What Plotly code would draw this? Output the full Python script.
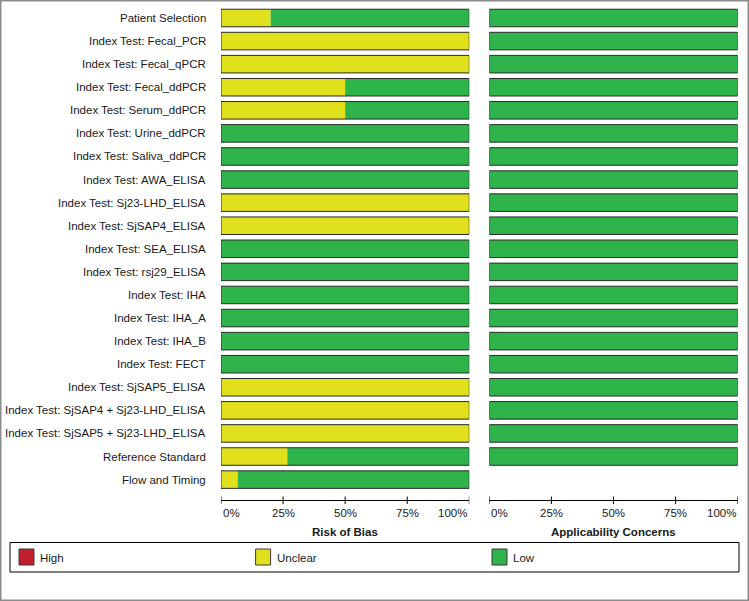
import plotly.graph_objects as go

# ---------------- data ----------------
domains = [
    "Patient Selection",
    "Index Test: Fecal_PCR",
    "Index Test: Fecal_qPCR",
    "Index Test: Fecal_ddPCR",
    "Index Test: Serum_ddPCR",
    "Index Test: Urine_ddPCR",
    "Index Test: Saliva_ddPCR",
    "Index Test: AWA_ELISA",
    "Index Test: Sj23-LHD_ELISA",
    "Index Test: SjSAP4_ELISA",
    "Index Test: SEA_ELISA",
    "Index Test: rsj29_ELISA",
    "Index Test: IHA",
    "Index Test: IHA_A",
    "Index Test: IHA_B",
    "Index Test: FECT",
    "Index Test: SjSAP5_ELISA",
    "Index Test: SjSAP4 + Sj23-LHD_ELISA",
    "Index Test: SjSAP5 + Sj23-LHD_ELISA",
    "Reference Standard",
    "Flow and Timing",
]

# Risk of bias (% of studies)
rob_high = [0, 0, 0, 0, 0, 0, 0, 0, 0, 0, 0, 0, 0, 0, 0, 0, 0, 0, 0, 0, 0]
rob_unclear = [20, 100, 100, 50, 50, 0, 0, 0, 100, 100, 0, 0, 0, 0, 0, 0, 100, 100, 100, 26.7, 6.7]
rob_low = [80, 0, 0, 50, 50, 100, 100, 100, 0, 0, 100, 100, 100, 100, 100, 100, 0, 0, 0, 73.3, 93.3]

# Applicability concerns (% of studies); not assessed for Flow and Timing
ac_high = [0] * 20 + [None]
ac_unclear = [0] * 20 + [None]
ac_low = [100] * 20 + [None]

categories = ["High", "Unclear", "Low"]
colors = ["#C0202A", "#E0E01C", "#2EB44B"]

tick_vals = [0, 25, 50, 75, 100]
tick_text = ["0%", "25%", "50%", "75%", "100%"]
panel_titles = ["Risk of Bias", "Applicability Concerns"]

# ---------------- layout helpers ----------------
W, H = 749, 601
FONT = "Liberation Sans, Arial, sans-serif"
TXT = "#1a1a1a"


def px(x):
    return x / W


def py(y):
    return 1 - y / H


y_idx = list(range(len(domains)))
BAR_W = 0.76

fig = go.Figure()


def add_panel(high, unclear, low, xa, ya):
    series = [high, unclear, low]
    bases = [
        [0 if h is not None else None for h in high],
        [h if h is not None else None for h in high],
        [(h + u) if h is not None else None for h, u in zip(high, unclear)],
    ]
    for s, b, c, name in zip(series, bases, colors, categories):
        fig.add_trace(go.Bar(
            y=y_idx, x=s, base=b, orientation="h", width=BAR_W,
            marker=dict(color=c, line=dict(width=0)),
            name=name, showlegend=False, xaxis=xa, yaxis=ya,
            hovertemplate="%{x}%<extra>" + name + "</extra>",
        ))
    total = [(h + u + l) if h is not None else None for h, u, l in zip(high, unclear, low)]
    fig.add_trace(go.Bar(
        y=y_idx, x=total, base=[0 if t is not None else None for t in total],
        orientation="h", width=BAR_W,
        marker=dict(color="rgba(0,0,0,0)", line=dict(width=1, color="#2a2a2a")),
        showlegend=False, hoverinfo="skip", xaxis=xa, yaxis=ya,
    ))


add_panel(rob_high, rob_unclear, rob_low, "x", "y")
add_panel(ac_high, ac_unclear, ac_low, "x2", "y2")

AXIS_Y = 500
ROW0 = 18.0
STEP = 23.08
y_top = ROW0 - STEP / 2
y_range_bottom = (AXIS_Y - ROW0) / STEP
ydom = [py(AXIS_Y), py(y_top)]

x1dom = [px(221), px(469.3)]
x2dom = [px(489.3), px(737.7)]

common_x = dict(range=[0, 100], showgrid=False, zeroline=False, showline=True,
                linecolor="#000000", linewidth=1, ticks="", showticklabels=False, fixedrange=True)
common_y = dict(range=[y_range_bottom, -0.5], showgrid=False, zeroline=False, showline=False,
                showticklabels=False, ticks="", domain=ydom, fixedrange=True)

fig.update_layout(
    width=W, height=H,
    margin=dict(l=0, r=0, t=0, b=0),
    paper_bgcolor="white", plot_bgcolor="white",
    barmode="overlay",
    font=dict(family=FONT, size=11.5, color=TXT),
    xaxis=dict(domain=x1dom, anchor="y", **common_x),
    yaxis=dict(anchor="x", **common_y),
    xaxis2=dict(domain=x2dom, anchor="y2", **common_x),
    yaxis2=dict(anchor="x2", matches="y", **common_y),
)

annotations = []
shapes = []

# row labels
for i, lab in enumerate(domains):
    annotations.append(dict(
        text=lab, xref="paper", yref="y", x=px(208), y=i, xanchor="right", yanchor="middle",
        showarrow=False, font=dict(family=FONT, size=11.5, color=TXT),
    ))

# ticks, tick labels and panel titles
for xa, dom, title in [("x", x1dom, panel_titles[0]), ("x2", x2dom, panel_titles[1])]:
    for v, t in zip(tick_vals, tick_text):
        anchor = "left" if v == tick_vals[0] else ("right" if v == tick_vals[-1] else "center")
        annotations.append(dict(
            text=t, xref=xa, yref="paper", x=v, y=py(513), xanchor=anchor, yanchor="middle",
            showarrow=False, font=dict(family=FONT, size=11.5, color=TXT),
        ))
        shapes.append(dict(type="line", xref=xa, yref="paper", x0=v, x1=v,
                           y0=py(AXIS_Y - 3.5), y1=py(AXIS_Y + 4), line=dict(color="#000000", width=1)))
    annotations.append(dict(
        text="<b>" + title + "</b>", xref="paper", yref="paper", x=(dom[0] + dom[1]) / 2, y=py(532),
        xanchor="center", yanchor="middle", showarrow=False,
        font=dict(family=FONT, size=11.5, color=TXT),
    ))

# legend box
shapes.append(dict(type="rect", xref="paper", yref="paper", x0=px(10), x1=px(739),
                   y0=py(572), y1=py(542.5), line=dict(color="#000000", width=1), fillcolor="white",
                   layer="below"))
legend_x = [19, 255.6, 492]
for lx, c, name in zip(legend_x, colors, categories):
    shapes.append(dict(type="rect", xref="paper", yref="paper", x0=px(lx), x1=px(lx + 15),
                       y0=py(565), y1=py(549), line=dict(color="#3a3a3a", width=1), fillcolor=c))
    annotations.append(dict(
        text=name, xref="paper", yref="paper", x=px(lx + 19), y=py(557.5), xanchor="left",
        yanchor="middle", showarrow=False, font=dict(family=FONT, size=11.5, color=TXT),
    ))

# outer frame
shapes.append(dict(type="rect", xref="paper", yref="paper", x0=px(0.75), x1=px(W - 0.75),
                   y0=py(H - 0.75), y1=py(0.75), line=dict(color="#8c8c8c", width=1.5),
                   fillcolor="rgba(0,0,0,0)"))

fig.update_layout(annotations=annotations, shapes=shapes)

fig.write_html(
    "out.html",
    config={"displayModeBar": False},
    post_script="document.body.style.margin='0';document.body.style.overflow='hidden';",
)
